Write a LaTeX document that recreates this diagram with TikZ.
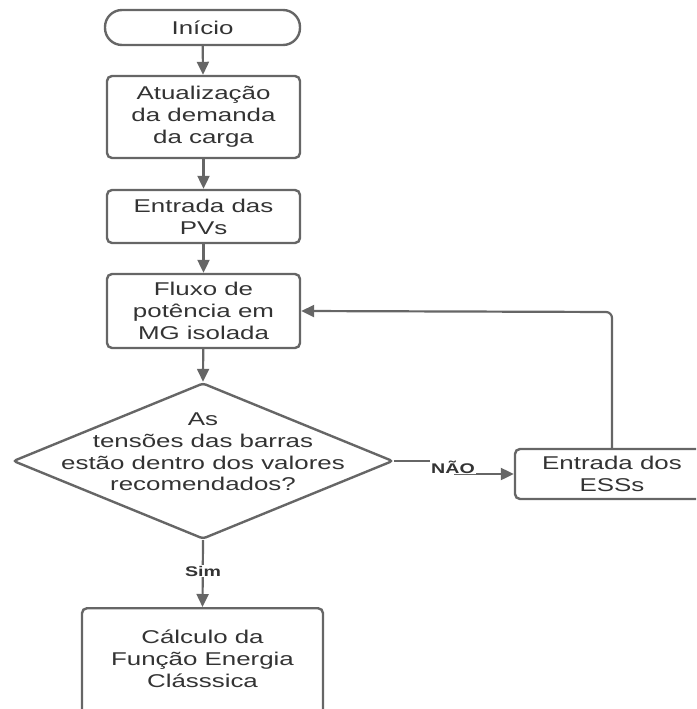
\documentclass[tikz,border=0pt]{standalone}
\usepackage{fontspec}
\setmainfont{Liberation Sans}[FakeStretch=1.4]
\usetikzlibrary{shapes.geometric,arrows.meta}
\definecolor{ln}{HTML}{666666}
\definecolor{tx}{HTML}{333333}
\begin{document}
\begin{tikzpicture}[x=1pt,y=-1pt,
  base/.style={draw=ln,line width=2.4pt,text=tx,font=\fontsize{18.5}{21.8}\selectfont,align=center,inner sep=0pt},
  proc/.style={base,rectangle,rounded corners=5pt},
  term/.style={base,rectangle,rounded corners=17pt},
  arr/.style={draw=ln,line width=2.2pt,-{Triangle[width=12pt,length=13pt]}},
  lab/.style={fill=white,text=tx,font=\fontsize{14}{16}\selectfont\bfseries,inner sep=1pt}]
\useasboundingbox (0,0) rectangle (696,709);
\clip (0,0) rectangle (696,709);
\node[term,minimum width=195pt,minimum height=35pt] (ini) at (202.5,27.5) {Início};
\node[proc,minimum width=193pt,minimum height=82pt] (atu) at (203.5,117) {Atualização\\da demanda\\da carga};
\node[proc,minimum width=193pt,minimum height=53pt] (pv) at (203.5,216.5) {Entrada das\\PVs};
\node[proc,minimum width=193pt,minimum height=74pt] (flx) at (203.5,311) {Fluxo de\\potência em\\MG isolada};
\node[base,diamond,rounded corners=3pt,minimum width=380pt,minimum height=156pt] (dec) at (203,461) {};
\node[text=tx,font=\fontsize{18.5}{21.8}\selectfont,align=center,inner sep=0pt] (dtx) at (203,452) {As\\tensões das barras\\estão dentro dos valores\\recomendados?};
\node[proc,minimum width=194pt,minimum height=50pt] (ess) at (612,474) {Entrada dos\\ESSs};
\node[proc,minimum width=241pt,minimum height=120pt,anchor=north] (cal) at (202.5,607) {};
\node[text=tx,font=\fontsize{18.5}{21.8}\selectfont,align=center,inner sep=0pt] (ctx) at (202.5,659) {Cálculo da\\Função Energia\\Clásssica};
\draw[arr] (ini) -- (atu);
\draw[arr] (atu) -- (pv);
\draw[arr] (pv) -- (flx);
\draw[arr] (flx) -- (dec.north);
\coordinate (b1) at (455,461);
\coordinate (b2) at (455,474);
\draw[arr] (dec.east) -- (b1) -- (b2) -- (ess.west);
\node[lab] (nao) at (453,467) {NÃO};
\draw[arr] (dec.south) -- (cal.north);
\node[lab] (sim) at (203,571) {Sim};
\coordinate (c1) at (612,312);
\draw[arr,rounded corners=6pt] (ess.north) -- (c1) -- (flx.east);
\end{tikzpicture}
\end{document}
